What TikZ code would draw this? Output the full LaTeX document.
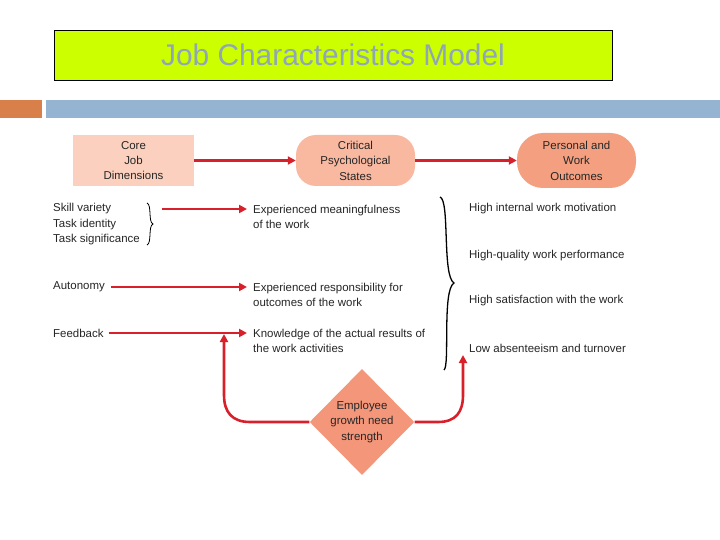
\documentclass[tikz,border=0pt]{standalone}
\usepackage{fontspec}
\setmainfont{Liberation Sans}
\usetikzlibrary{shapes.geometric,arrows.meta,decorations.pathreplacing}
\definecolor{rd}{HTML}{D8202A}
\definecolor{tgray}{HTML}{8FA5B8}
\begin{document}
\begin{tikzpicture}[x=1bp,y=-1bp,
  txt/.style={anchor=west,font=\fontsize{11.5}{15.5}\selectfont,text=black!85,inner sep=0pt},
  ctr/.style={align=center,font=\fontsize{11.5}{15.5}\selectfont,text=black!85},
  arr/.style={draw=rd,line width=2.6pt,-{Triangle[length=8bp,width=8bp]}}]
\useasboundingbox (0,0) rectangle (720,540);
\fill[white] (0,0) rectangle (720,540);
\node[draw=black,fill={rgb,255:red,204;green,255;blue,0},minimum width=558bp,minimum height=50bp,inner sep=0pt,font=\fontsize{30}{32}\selectfont,text=tgray] (title) at (333,55) {Job Characteristics Model};
\fill[fill={rgb,255:red,217;green,128;blue,74}] (0,100) rectangle (42,118);
\fill[fill={rgb,255:red,148;green,180;blue,210}] (46,100) rectangle (720,118);
\node[ctr,fill={rgb,255:red,251;green,208;blue,190},minimum width=121bp,minimum height=51bp,inner sep=0pt] (core) at (133.5,160.5) {Core\\Job\\Dimensions};
\node[ctr,fill={rgb,255:red,249;green,184;blue,160},rounded corners=20bp,minimum width=119bp,minimum height=51bp,inner sep=0pt] (crit) at (355.5,160.5) {Critical\\Psychological\\States};
\node[ctr,fill={rgb,255:red,244;green,160;blue,128},rounded corners=26bp,minimum width=119bp,minimum height=55bp,inner sep=0pt] (pers) at (576.5,160.5) {Personal and\\Work\\Outcomes};
\draw[arr] (core) -- (crit);
\draw[arr] (crit) -- (pers);
\node[txt] (sv) at (53,209) {Skill variety};
\node[txt] (ti) at (53,225) {Task identity};
\node[txt] (ts) at (53,240) {Task significance};
\draw[line width=0.8pt] (147,203) .. controls (152,205) and (148,222) .. (153,224) .. controls (148,226) and (152,243) .. (147,245);
\coordinate (b1) at (162,209);
\node[txt,align=left] (em) at (253,217) {Experienced meaningfulness\\of the work};
\draw[arr] (b1) -- (247,209);
\node[txt] (au) at (53,287) {Autonomy};
\node[txt,align=left] (er) at (253,295) {Experienced responsibility for\\outcomes of the work};
\draw[arr] (au.east)++(6,0) -- (247,287);
\node[txt] (fb) at (53,333) {Feedback};
\node[txt,align=left] (kn) at (253,341) {Knowledge of the actual results of\\the work activities};
\draw[arr] (fb.east)++(5,0) -- (247,333);
\draw[line width=1.3pt] (440,197) .. controls (450,200) and (442,276) .. (454,283) .. controls (442,290) and (450,366) .. (444,370);
\node[txt] (o1) at (469,209) {High internal work motivation};
\node[txt] (o2) at (469,256) {High-quality work performance};
\node[txt] (o3) at (469,301) {High satisfaction with the work};
\node[txt] (o4) at (469,348) {Low absenteeism and turnover};
\node[diamond,ctr,fill={rgb,255:red,244;green,150;blue,122},minimum width=104bp,minimum height=106bp,inner sep=0pt] (emp) at (362,422) {Employee\\growth need\\strength};
\coordinate (lt) at (224,334);
\coordinate (rt) at (463,355);
\draw[arr] (emp.west) -- (250,422) .. controls (232,422) and (224,412) .. (224,395) -- (lt);
\draw[arr] (emp.east) -- (438,422) .. controls (456,422) and (463,412) .. (463,395) -- (rt);
\end{tikzpicture}
\end{document}
